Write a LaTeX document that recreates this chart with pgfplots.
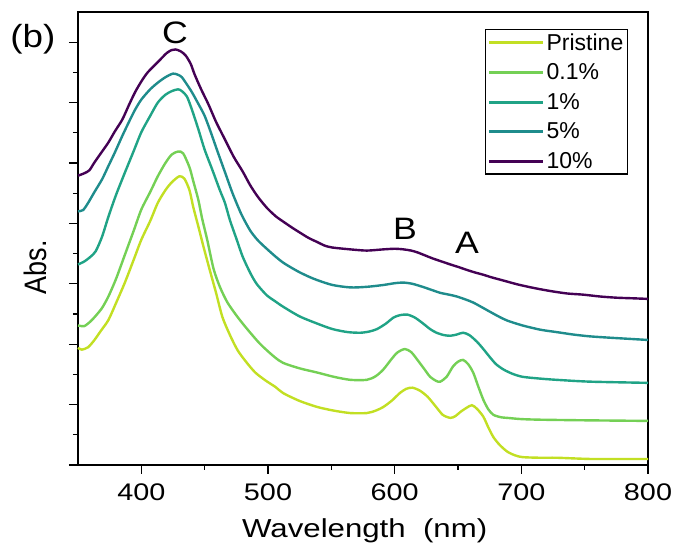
\documentclass[border=0pt]{standalone}
\usepackage{fontspec}
\setmainfont{Liberation Sans}
\usepackage{graphicx}
\usepackage{pgfplots}
\usepackage{pgfplotstable}
\pgfplotsset{compat=1.18}
\definecolor{cP}{HTML}{C2DF23}
\definecolor{cA}{HTML}{74D055}
\definecolor{cB}{HTML}{20A386}
\definecolor{cC}{HTML}{1F8C8C}
\definecolor{cD}{HTML}{440154}
\newcommand\sx[1]{\scalebox{1.2}[1]{#1}}

\pgfplotstableread{
x y
350 1.94
353 1.91
358 1.95
363 2.07
368 2.22
374 2.40
380 2.68
387 3.02
394 3.40
400 3.73
407 4.04
413 4.34
419 4.55
424 4.68
430 4.78
434 4.74
438 4.55
441 4.27
445 3.95
449 3.62
454 3.23
459 2.85
464 2.45
470 2.15
476 1.90
483 1.70
490 1.53
498 1.40
506 1.29
512 1.19
525 1.06
539 0.96
552 0.90
565 0.86
578 0.86
585 0.90
591 0.96
598 1.07
604 1.19
609 1.26
614 1.28
620 1.23
626 1.13
632 0.98
638 0.83
644 0.78
648 0.81
652 0.88
657 0.95
661 0.99
665 0.93
670 0.80
674 0.62
678 0.46
683 0.33
689 0.22
695 0.16
701 0.13
715 0.12
728 0.12
754 0.10
780 0.10
800 0.10
}\pristine

\pgfplotstableread{
x y
350 2.31
355 2.30
360 2.38
364 2.47
369 2.60
374 2.79
380 3.08
387 3.48
394 3.88
400 4.23
407 4.52
413 4.78
419 5.00
424 5.14
429 5.19
433 5.16
438 4.93
441 4.70
445 4.39
448 4.08
452 3.73
457 3.25
462 2.95
468 2.69
476 2.45
484 2.24
494 2.00
505 1.79
512 1.69
525 1.60
539 1.53
552 1.46
565 1.41
578 1.41
585 1.47
591 1.58
597 1.74
602 1.86
608 1.92
613 1.87
618 1.74
623 1.60
628 1.46
633 1.39
636 1.38
641 1.46
646 1.63
650 1.71
654 1.74
658 1.67
662 1.53
666 1.30
670 1.08
674 0.92
678 0.83
684 0.79
689 0.78
700 0.76
715 0.75
750 0.74
800 0.73
}\pone

\pgfplotstableread{
x y
350 3.32
355 3.37
360 3.45
364 3.54
369 3.78
374 4.11
380 4.47
387 4.84
394 5.20
400 5.51
407 5.78
413 6.00
419 6.13
424 6.19
429 6.22
432 6.19
436 6.10
440 5.88
445 5.56
450 5.22
456 4.89
462 4.55
466 4.34
470 4.05
475 3.75
480 3.45
486 3.18
491 3.00
499 2.81
505 2.72
512 2.62
525 2.46
539 2.34
551 2.25
563 2.20
573 2.19
580 2.21
586 2.25
593 2.34
599 2.44
604 2.48
610 2.49
616 2.44
622 2.35
628 2.25
633 2.19
639 2.15
644 2.14
649 2.16
654 2.19
659 2.15
665 2.04
670 1.92
675 1.79
680 1.67
686 1.58
693 1.51
701 1.46
715 1.43
728 1.41
754 1.38
800 1.36
}\ptwo

\pgfplotstableread{
x y
350 4.20
354 4.22
358 4.34
363 4.52
369 4.73
374 4.95
379 5.17
385 5.45
390 5.67
395 5.88
400 6.05
407 6.22
413 6.33
419 6.42
425 6.48
429 6.46
432 6.42
436 6.30
440 6.17
445 5.98
450 5.78
455 5.50
460 5.20
466 4.85
472 4.50
479 4.15
486 3.88
492 3.72
499 3.58
506 3.45
512 3.35
519 3.26
525 3.19
532 3.12
539 3.06
551 2.98
565 2.94
578 2.95
591 2.98
600 3.01
607 3.02
614 3.00
622 2.95
629 2.90
636 2.85
643 2.82
649 2.79
656 2.74
662 2.69
669 2.61
675 2.54
682 2.46
689 2.39
701 2.31
715 2.24
728 2.20
741 2.16
754 2.13
768 2.11
784 2.09
800 2.07
}\pthree

\pgfplotstableread{
x y
350 4.79
355 4.83
359 4.88
363 5.01
368 5.16
374 5.34
379 5.52
385 5.72
390 5.95
395 6.17
400 6.35
405 6.50
413 6.67
420 6.82
424 6.87
427 6.88
431 6.85
435 6.78
439 6.64
442 6.47
447 6.23
453 5.97
459 5.68
466 5.39
473 5.10
480 4.86
486 4.63
492 4.44
499 4.26
506 4.12
512 4.03
519 3.93
525 3.85
532 3.76
539 3.69
545 3.63
551 3.60
565 3.57
578 3.55
591 3.57
600 3.58
607 3.57
613 3.55
618 3.52
624 3.47
630 3.42
637 3.37
644 3.32
650 3.28
657 3.23
663 3.19
670 3.15
676 3.11
683 3.07
690 3.03
697 2.99
710 2.93
723 2.88
736 2.84
749 2.82
762 2.79
775 2.77
788 2.76
800 2.75
}\pfour

\begin{document}
\begin{tikzpicture}
\begin{axis}[
  name=ax,
  scale only axis,
  width=570pt, height=453pt,
  xmin=350, xmax=800, ymin=0, ymax=7.5,
  axis line style={line width=1.5pt},
  every tick/.style={black, line width=1.3pt},
  tick align=outside,
  xtick pos=bottom, ytick pos=left,
  major tick length=9pt, minor tick length=5pt,
  xtick={400,500,600,700,800},
  xticklabels={\sx{400},\sx{500},\sx{600},\sx{700},\sx{800}},
  minor x tick num=1,
  ytick={0,1,2,3,4,5,6,7},
  yticklabels={},
  minor y tick num=1,
  xticklabel style={font=\fontsize{24}{25}\selectfont, inner sep=2pt, yshift=-8pt},
  xlabel={\fontsize{26}{27}\selectfont\sx{Wavelength~~(nm)}},
  xlabel style={at={(axis description cs:0.503,-0.161)}, anchor=base},
  ylabel={\fontsize{27}{28}\selectfont\scalebox{1}[1.15]{Abs.}},
  ylabel style={at={(axis description cs:-0.0754,0.437)}, anchor=center},
  clip=false,
  legend cell align=left,
  legend style={at={(axis description cs:0.965,0.9625)}, anchor=north east,
    draw=black, line width=1.5pt, inner sep=2pt,
    font=\fontsize{23}{23}\selectfont, row sep=8pt},
  legend image code/.code={\draw[#1, line width=3pt] (0pt,0pt) -- (54pt,0pt);},
  every axis plot/.append style={smooth, tension=0.45, line width=2.4pt},
]
\addplot[cP] table[x=x,y=y] {\pristine};
\addlegendentry{Pristine}
\addplot[cA] table[x=x,y=y] {\pone};
\addlegendentry{0.1\%}
\addplot[cB] table[x=x,y=y] {\ptwo};
\addlegendentry{1\%}
\addplot[cC] table[x=x,y=y] {\pthree};
\addlegendentry{5\%}
\addplot[cD] table[x=x,y=y] {\pfour};
\addlegendentry{10\%}
\node[font=\fontsize{31}{32}\selectfont] at (axis cs:426.6,7.15) {\scalebox{1.15}[1]{C}};
\node[font=\fontsize{31}{32}\selectfont] at (axis cs:608.2,3.91) {\scalebox{1.15}[1]{B}};
\node[font=\fontsize{31}{32}\selectfont] at (axis cs:657.1,3.68) {\scalebox{1.15}[1]{A}};
\node[font=\fontsize{32}{33}\selectfont] at (axis description cs:-0.079,0.94) {\scalebox{1.15}[1]{(b)}};
\end{axis}
\pgfresetboundingbox
\path (ax.south west) ++(-78pt,-83pt) rectangle ++(677pt,548pt);
\end{tikzpicture}
\end{document}
